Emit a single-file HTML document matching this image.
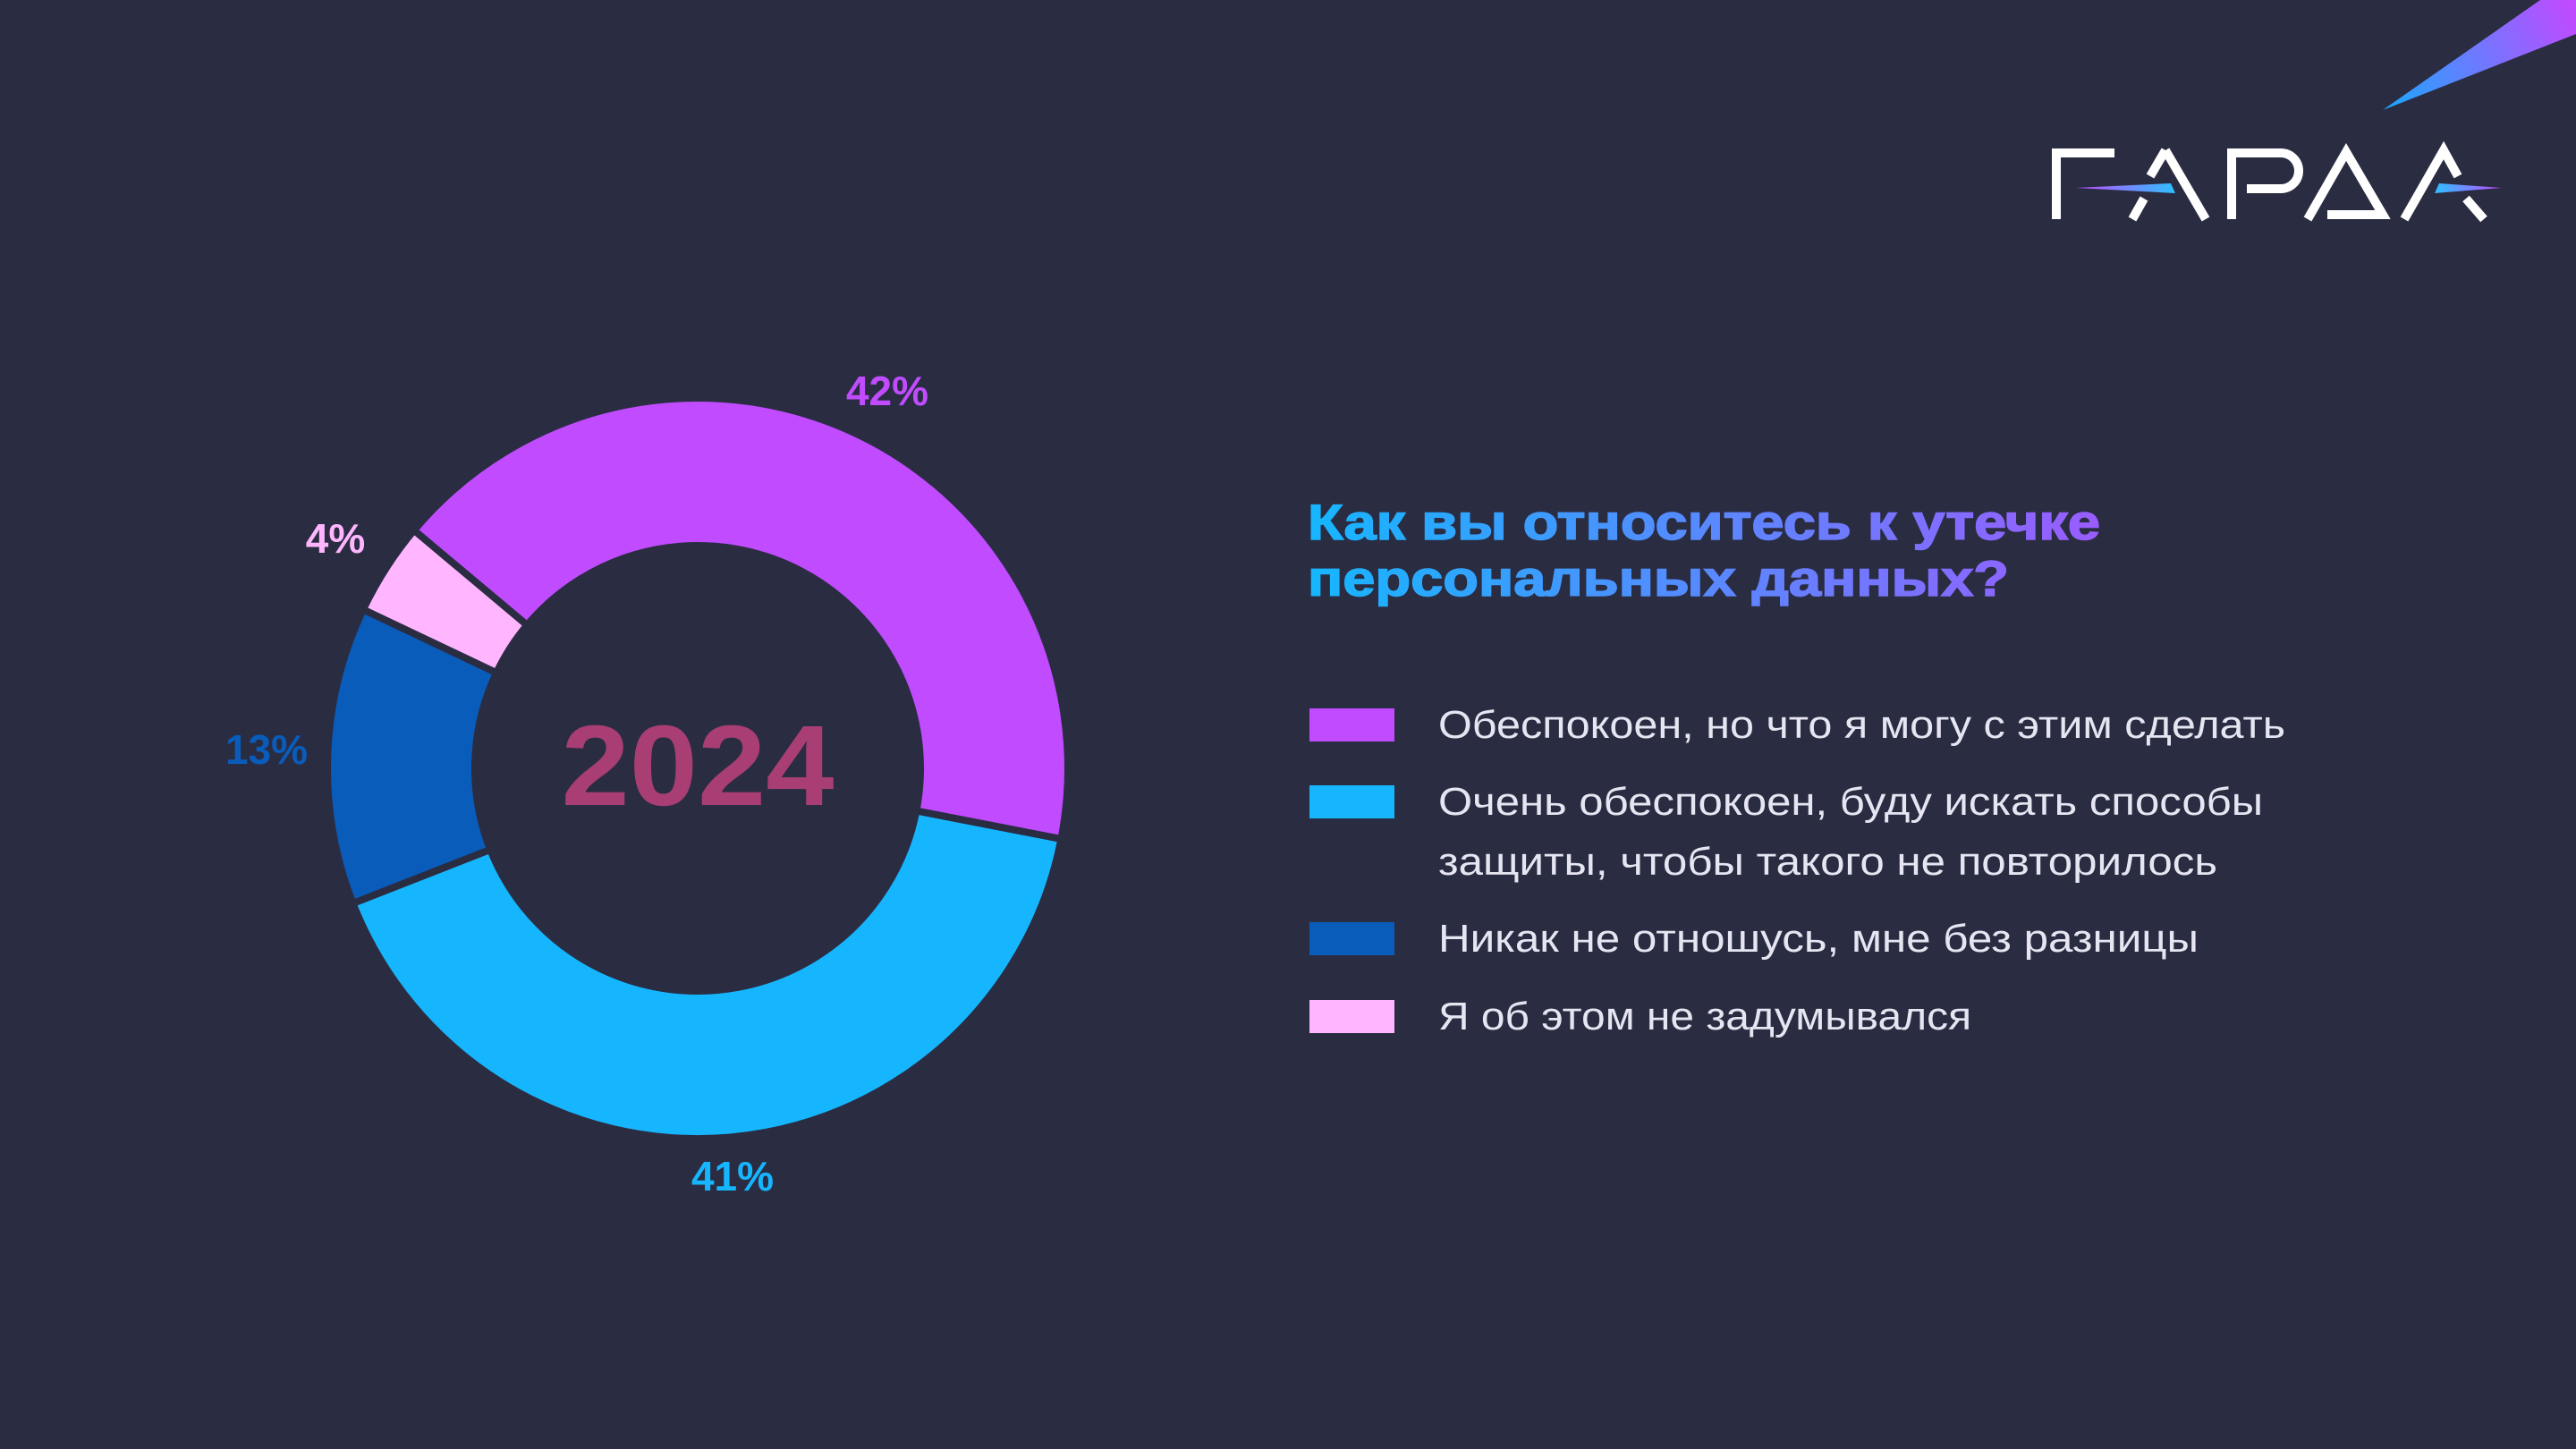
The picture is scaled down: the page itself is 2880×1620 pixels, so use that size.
<!DOCTYPE html>
<html><head><meta charset="utf-8"><style>
html,body{margin:0;padding:0;background:#2a2c42;}
svg{display:block}
</style></head><body>
<svg width="2880" height="1620" viewBox="0 0 2880 1620" xmlns="http://www.w3.org/2000/svg">
<defs>
<linearGradient id="tg" x1="1464" y1="0" x2="2350" y2="0" gradientUnits="userSpaceOnUse">
<stop offset="0" stop-color="#16b6ff"/><stop offset="1" stop-color="#9a5cff"/></linearGradient>
<linearGradient id="sg" x1="2664" y1="123" x2="2880" y2="20" gradientUnits="userSpaceOnUse">
<stop offset="0" stop-color="#1aa8ff"/><stop offset="1" stop-color="#c04bff"/></linearGradient>
<linearGradient id="lg1" x1="2320" y1="0" x2="2432" y2="0" gradientUnits="userSpaceOnUse">
<stop offset="0" stop-color="#c04bff"/><stop offset="1" stop-color="#2ec0ff"/></linearGradient>
<linearGradient id="lg2" x1="2722" y1="0" x2="2797" y2="0" gradientUnits="userSpaceOnUse">
<stop offset="0" stop-color="#2ec0ff"/><stop offset="1" stop-color="#c04bff"/></linearGradient>
</defs>
<rect width="2880" height="1620" fill="#2a2c42"/>
<polygon points="2664,123 2840,0 2880,0 2880,38" fill="url(#sg)"/>
<g fill="none" stroke="#fff" stroke-width="10">
<path d="M2299,245 V171 H2364"/>
<path d="M2421,168 L2466,245"/>
<path d="M2421,168 L2404,197"/>
<path d="M2397,222 L2384,245"/>
<path d="M2495,245 V171 H2550 A20,20 0 0 1 2550,211 H2512"/>
<path d="M2580,245 L2623,170 L2664,240 H2602"/>
<path d="M2688,245 L2732,168 L2748,197"/>
<path d="M2757,222 L2777,245"/>
</g>
<polygon points="2320,210 2427,205 2432,216" fill="url(#lg1)"/>
<polygon points="2722,216 2727,205 2797,210" fill="url(#lg2)"/>
<g fill="none" stroke-width="157">
<circle cx="780" cy="859" r="331.5" stroke="#c04bff" stroke-dasharray="873.6 3000" transform="rotate(220 780 859)"/>
<circle cx="780" cy="859" r="331.5" stroke="#16b6ff" stroke-dasharray="854 3000" transform="rotate(11 780 859)"/>
<circle cx="780" cy="859" r="331.5" stroke="#0a5cba" stroke-dasharray="270.8 3000" transform="rotate(158.6 780 859)"/>
<circle cx="780" cy="859" r="331.5" stroke="#ffb6ff" stroke-dasharray="84 3000" transform="rotate(205.4 780 859)"/>
</g>
<g stroke="#2a2c42" stroke-width="8">
<line x1="590" y1="699.5" x2="462.1" y2="592.2"/>
<line x1="1023.4" y1="906.3" x2="1187.4" y2="938.2"/>
<line x1="549.1" y1="949.5" x2="393.6" y2="1010.4"/>
<line x1="556" y1="752.6" x2="405.1" y2="681"/>
</g>
<g font-family="Liberation Sans, sans-serif" font-weight="bold" text-anchor="middle">
<text x="780" y="900" font-size="128" fill="#a83e74" textLength="305" lengthAdjust="spacingAndGlyphs">2024</text>
<text x="992" y="453" font-size="46" fill="#c04bff">42%</text>
<text x="375" y="618" font-size="46" fill="#ffb6ff">4%</text>
<text x="298" y="854" font-size="46" fill="#0a5cba">13%</text>
<text x="819" y="1331" font-size="46" fill="#16b6ff">41%</text>
</g>
<g font-family="Liberation Sans, sans-serif" font-weight="bold" font-size="56" fill="url(#tg)" stroke="url(#tg)" stroke-width="1.5">
<text x="1462" y="603" textLength="886" lengthAdjust="spacingAndGlyphs">Как вы относитесь к утечке</text>
<text x="1462" y="666" textLength="784" lengthAdjust="spacingAndGlyphs">персональных данных?</text>
</g>
<rect x="1464" y="792" width="95" height="37" fill="#c04bff"/>
<rect x="1464" y="878" width="95" height="37" fill="#16b6ff"/>
<rect x="1464" y="1031" width="95" height="37" fill="#0a5cba"/>
<rect x="1464" y="1118" width="95" height="37" fill="#ffb6ff"/>
<g font-family="Liberation Sans, sans-serif" font-size="44" fill="#e6e6f2">
<text x="1608" y="825" textLength="947" lengthAdjust="spacingAndGlyphs">Обеспокоен, но что я могу с этим сделать</text>
<text x="1608" y="911" textLength="922" lengthAdjust="spacingAndGlyphs">Очень обеспокоен, буду искать способы</text>
<text x="1608" y="978" textLength="871" lengthAdjust="spacingAndGlyphs">защиты, чтобы такого не повторилось</text>
<text x="1608" y="1064" textLength="850" lengthAdjust="spacingAndGlyphs">Никак не отношусь, мне без разницы</text>
<text x="1608" y="1151" textLength="596" lengthAdjust="spacingAndGlyphs">Я об этом не задумывался</text>
</g>
</svg>
</body></html>
